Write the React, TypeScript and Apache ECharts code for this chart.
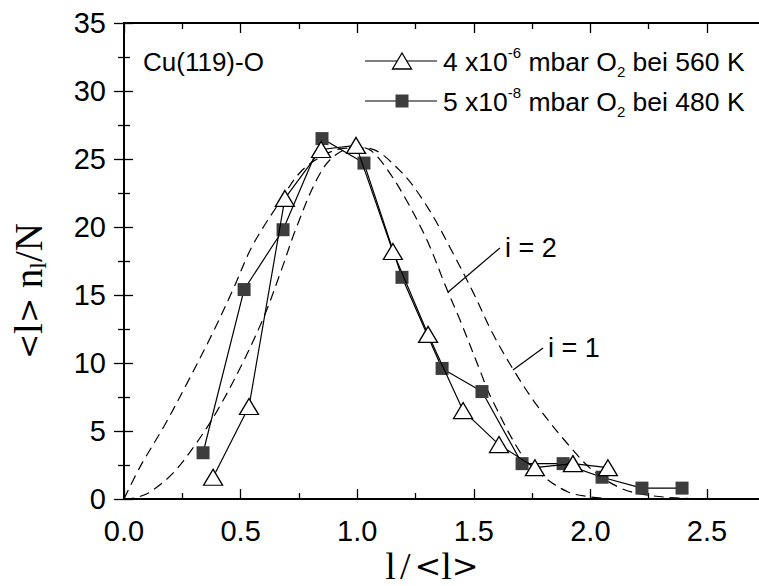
import React, { useEffect, useRef } from "react";
import * as echarts from "echarts";

// open triangles: 4x10^-6 mbar O2 bei 560 K
const triX = [0.382, 0.536, 0.690, 0.845, 0.995, 1.153, 1.304, 1.454, 1.608, 1.762, 1.925, 2.075];
const triY = [1.6, 6.8, 22.1, 25.7, 26.0, 18.2, 12.1, 6.5, 4.0, 2.3, 2.6, 2.3];

// filled squares: 5x10^-8 mbar O2 bei 480 K
const sqX = [0.339, 0.515, 0.682, 0.849, 1.029, 1.192, 1.364, 1.535, 1.707, 1.883, 2.050, 2.221, 2.393];
const sqY = [3.4, 15.4, 19.8, 26.5, 24.7, 16.3, 9.6, 7.9, 2.6, 2.6, 1.6, 0.8, 0.8];

// dashed scaling curve i = 1
const i1X = [0, 0.07, 0.17, 0.27, 0.38, 0.47, 0.55, 0.67, 0.76, 0.87, 0.96, 1.04, 1.18, 1.30, 1.41, 1.50, 1.58, 1.67, 1.77, 1.90, 2.01, 2.13, 2.24, 2.40, 2.55];
const i1Y = [0, 2.4, 5.3, 8.5, 12.2, 15.5, 18.6, 21.9, 24.1, 25.4, 25.8, 25.8, 24.2, 21.5, 18.1, 15.1, 12.2, 9.5, 6.9, 4.1, 2.1, 0.8, 0.3, 0.05, 0];

// dashed scaling curve i = 2
const i2X = [0, 0.05, 0.11, 0.21, 0.31, 0.40, 0.50, 0.60, 0.67, 0.74, 0.83, 0.90, 1.0, 1.06, 1.13, 1.21, 1.30, 1.385, 1.44, 1.53, 1.57, 1.70, 1.78, 1.90, 2.0, 2.1];
const i2Y = [0, 0.1, 0.5, 1.9, 4.1, 6.5, 9.7, 13.4, 16.6, 20.0, 23.6, 25.2, 25.9, 25.6, 24.2, 22.0, 19.0, 15.4, 13.2, 9.3, 7.6, 3.4, 1.9, 0.55, 0.15, 0];

// annotation leader lines
const lead2X = [1.389, 1.612];
const lead2Y = [15.2, 18.46];
const lead1X = [1.668, 1.797];
const lead1Y = [9.49, 11.1];
const leadLabels = ["i = 2", "i = 1"];

// legend texts
const legend1 = ["4 x10", "-6", " mbar O", "2", " bei 560 K"];
const legend2 = ["5 x10", "-8", " mbar O", "2", " bei 480 K"];
const sampleLabel = "Cu(119)-O";
const xTitleParts = ["l", "/", "<", "l", ">"];
const yTitleParts = ["<", "l", ">", " n", "l", "/N"];

const SANS = '"Liberation Sans", Arial, Helvetica, sans-serif';
const SERIF = '"Liberation Serif", "Times New Roman", serif';
const SYM = '"DejaVu Serif", serif';

const pts = (xs: number[], ys: number[]) => xs.map((x, i) => [x, ys[i]]);

export default function App() {
  const ref = useRef<HTMLDivElement>(null);
  useEffect(() => {
    document.body.style.margin = "0";
    if (!ref.current) return;
    const chart = echarts.init(ref.current, undefined, { renderer: "svg" });
    const pxPerX = 233.2;
    const axisLine = { show: true, lineStyle: { color: "#000", width: 1.8 } };
    const tick = (len: number) => ({ show: true, inside: true, length: len, lineStyle: { color: "#000", width: 1.3 } });
    const minor = (len: number) => ({ show: true, splitNumber: 2, length: len, lineStyle: { color: "#000", width: 1.3 } });
    const legendRich = {
      a: { fontFamily: SANS, fontSize: 26.5, lineHeight: 34, color: "#000" },
      sup: { fontFamily: SANS, fontSize: 15, lineHeight: 20, verticalAlign: "top", color: "#000" },
      sub: { fontFamily: SANS, fontSize: 15, lineHeight: 4, verticalAlign: "bottom", color: "#000" },
    };
    const legendText = (p: string[]) => `{a|${p[0]}}{sup|${p[1]}}{a|${p[2]}}{sub|${p[3]}}{a|${p[4]}}`;
    const dashed = { color: "#000", width: 1.2, type: [10, 6] as any };

    chart.setOption({
      animation: false,
      backgroundColor: "#fff",
      grid: [
        { left: 124, top: 23, width: 3 * pxPerX, height: 476, containLabel: false, outerBoundsMode: "none" },
        { left: 124, top: 23, width: 2.75 * pxPerX, height: 476, containLabel: false, outerBoundsMode: "none" },
      ],
      xAxis: [
        {
          type: "value", gridIndex: 0, min: 0, max: 3, interval: 0.5, position: "bottom",
          axisLine, axisTick: tick(10), minorTick: minor(6), splitLine: { show: false },
          axisLabel: {
            fontFamily: SANS, fontSize: 29, color: "#000", margin: 17,
            formatter: (v: number) => (v > 2.6 ? "" : v.toFixed(1)),
          },
        },
        {
          type: "value", gridIndex: 0, min: 0, max: 3, interval: 0.5, position: "top",
          axisLine, axisTick: tick(10), minorTick: minor(6), splitLine: { show: false },
          axisLabel: { show: false },
        },
        { type: "value", gridIndex: 1, min: 0, max: 2.75, show: false },
      ],
      yAxis: [
        {
          type: "value", gridIndex: 0, min: 0, max: 35, interval: 5, position: "left",
          axisLine, axisTick: tick(9), minorTick: minor(6), splitLine: { show: false },
          axisLabel: { fontFamily: SANS, fontSize: 29, color: "#000", margin: 18 },
        },
        {
          type: "value", gridIndex: 1, min: 0, max: 35, interval: 5, position: "right",
          axisLine, axisTick: tick(10), minorTick: minor(6), splitLine: { show: false },
          axisLabel: { show: false },
        },
      ],
      series: [
        { type: "line", data: pts(i1X, i1Y), smooth: 0.35, showSymbol: false, symbol: "none", lineStyle: dashed, z: 2 },
        { type: "line", data: pts(i2X, i2Y), smooth: 0.35, showSymbol: false, symbol: "none", lineStyle: dashed, z: 2 },
        {
          type: "line", data: pts(lead2X, lead2Y), symbol: "none", lineStyle: { color: "#000", width: 1.2 }, z: 2,
          endLabel: { show: true, formatter: leadLabels[0], fontFamily: SANS, fontSize: 27, color: "#000", distance: 5 },
        },
        {
          type: "line", data: pts(lead1X, lead1Y), symbol: "none", lineStyle: { color: "#000", width: 1.2 }, z: 2,
          endLabel: { show: true, formatter: leadLabels[1], fontFamily: SANS, fontSize: 27, color: "#000", distance: 5 },
        },
        {
          type: "line", data: pts(sqX, sqY), symbol: "rect", symbolSize: 13, showAllSymbol: true,
          lineStyle: { color: "#000", width: 1.2 }, itemStyle: { color: "#3d3d3d", borderWidth: 0 }, z: 3,
        },
        {
          type: "line", data: pts(triX, triY), symbol: "triangle", symbolSize: [19, 16], showAllSymbol: true,
          lineStyle: { color: "#000", width: 1.2 }, itemStyle: { color: "#fff", borderColor: "#000", borderWidth: 1.3 }, z: 4,
        },
      ],
      graphic: [
        { type: "text", x: 143, y: 62, style: { text: sampleLabel, fontFamily: SANS, fontSize: 26, fill: "#000", verticalAlign: "middle" } },
        // legend row 1
        { type: "line", shape: { x1: 365, y1: 61, x2: 437, y2: 61 }, style: { stroke: "#000", lineWidth: 1.2 } },
        { type: "polygon", shape: { points: [[402, 53], [411.5, 69], [392.5, 69]] }, style: { fill: "#fff", stroke: "#000", lineWidth: 1.3 } },
        { type: "text", x: 443, y: 62, style: { text: legendText(legend1), rich: legendRich, verticalAlign: "middle" } },
        // legend row 2
        { type: "line", shape: { x1: 365, y1: 101, x2: 437, y2: 101 }, style: { stroke: "#000", lineWidth: 1.2 } },
        { type: "rect", shape: { x: 395.5, y: 94.5, width: 13, height: 13 }, style: { fill: "#3d3d3d" } },
        { type: "text", x: 443, y: 102, style: { text: legendText(legend2), rich: legendRich, verticalAlign: "middle" } },
        // x axis title
        {
          type: "text", x: 432, y: 566,
          style: {
            text: `{t|${xTitleParts[0]}}{s|${xTitleParts[1]}}{g|${xTitleParts[2]}}{t|${xTitleParts[3]}}{g|${xTitleParts[4]}}`,
            align: "center", verticalAlign: "middle",
            rich: {
              t: { fontFamily: SERIF, fontSize: 38, lineHeight: 38, color: "#000" },
              s: { fontFamily: SERIF, fontSize: 38, lineHeight: 38, color: "#000", padding: [0, 4, 0, 4] },
              g: { fontFamily: SYM, fontSize: 32, lineHeight: 38, color: "#000" },
            },
          },
        },
        // y axis title
        {
          type: "text", x: 28, y: 291, rotation: Math.PI / 2,
          style: {
            text: `{g|${yTitleParts[0]}}{m|${yTitleParts[1]}}{g|${yTitleParts[2]}}{m|${yTitleParts[3]}}{s|${yTitleParts[4]}}{m|${yTitleParts[5]}}`,
            align: "center", verticalAlign: "middle",
            rich: {
              m: { fontFamily: SERIF, fontSize: 39, lineHeight: 44, color: "#000" },
              g: { fontFamily: SYM, fontSize: 30, lineHeight: 44, color: "#000" },
              s: { fontFamily: SERIF, fontSize: 24, lineHeight: 8, verticalAlign: "bottom", color: "#000" },
            },
          },
        },
      ],
    });
    return () => chart.dispose();
  }, []);
  return <div ref={ref} style={{ width: 759, height: 586 }} />;
}
